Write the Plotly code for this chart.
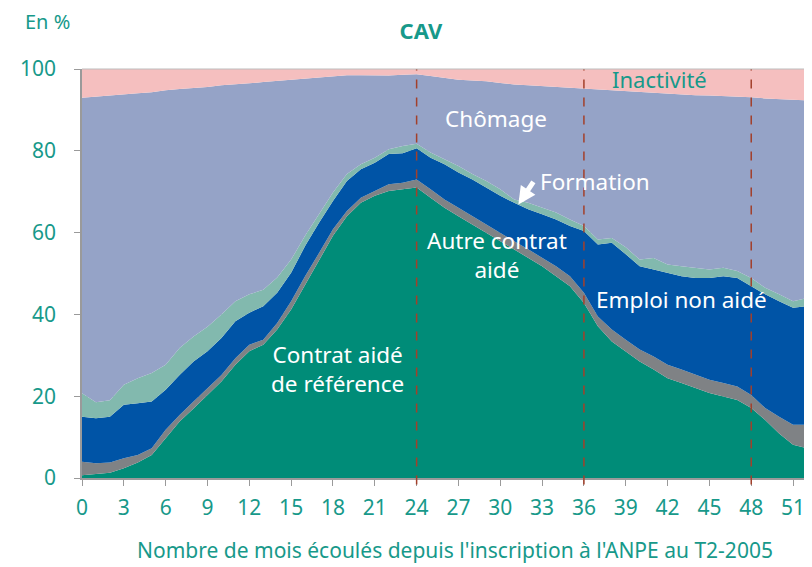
import plotly.graph_objects as go

months = list(range(0, 53))

# cumulative upper boundaries of each stacked layer (%)
top_contrat_ref = [0.7, 1.0, 1.3, 2.4, 3.8, 5.6, 9.7, 13.8, 17.0, 20.3, 23.6, 27.7, 31.0, 32.6, 36.3,
                   41.2, 47.3, 53.4, 59.2, 64.0, 67.3, 69.0, 70.2, 70.6, 71.0, 68.5, 66.1, 64.0, 62.0,
                   60.0, 57.9, 55.9, 53.8, 51.8, 49.3, 46.9, 42.8, 37.1, 33.4, 31.0, 28.5, 26.5, 24.4,
                   23.2, 22.0, 20.8, 19.9, 19.1, 17.1, 14.2, 10.9, 8.1, 7.3]
top_autre_contrat = [4.0, 3.6, 3.8, 4.8, 5.6, 7.3, 11.8, 15.4, 18.7, 22.0, 25.2, 29.3, 32.6, 33.8, 37.9,
                     43.2, 49.3, 55.0, 60.8, 65.3, 68.5, 70.2, 71.8, 72.2, 73.0, 70.6, 68.1, 66.1, 64.0,
                     62.0, 60.0, 57.9, 55.9, 53.8, 51.8, 49.3, 45.3, 39.5, 36.3, 33.8, 31.4, 29.7, 27.7,
                     26.5, 25.2, 24.0, 23.2, 22.4, 20.3, 17.1, 15.0, 13.0, 13.0]
top_emploi_non_aide = [15.0, 14.6, 15.0, 17.9, 18.3, 18.7, 21.6, 25.2, 28.5, 31.0, 34.2, 38.3, 40.4, 42.0,
                       45.3, 50.2, 56.7, 62.4, 67.7, 72.6, 75.5, 77.1, 79.2, 79.4, 80.6, 78.3, 76.7, 74.7,
                       73.0, 71.0, 69.0, 67.3, 65.7, 64.5, 63.2, 61.6, 60.4, 57.1, 57.5, 54.7, 51.8, 51.0,
                       50.2, 49.3, 48.9, 48.9, 49.3, 48.9, 46.9, 44.9, 43.2, 41.6, 42.0]
top_formation = [20.7, 18.5, 19.0, 22.8, 24.4, 25.7, 27.7, 31.8, 34.6, 37.0, 40.0, 43.2, 44.9, 46.0, 49.0,
                 53.4, 59.2, 64.5, 69.8, 74.3, 76.7, 78.3, 80.4, 81.2, 81.7, 79.6, 77.9, 76.3, 74.3, 72.6,
                 70.6, 68.1, 67.3, 66.1, 64.9, 63.2, 61.6, 58.3, 58.7, 56.4, 53.4, 53.8, 52.2, 51.8, 51.4,
                 51.0, 51.4, 50.6, 48.9, 46.5, 44.9, 43.2, 44.0]
top_chomage = [93.0, 93.3, 93.6, 93.9, 94.1, 94.3, 94.8, 95.1, 95.3, 95.6, 96.0, 96.2, 96.5, 96.8, 97.1,
               97.3, 97.6, 97.9, 98.3, 98.5, 98.5, 98.4, 98.4, 98.6, 98.7, 98.3, 97.8, 97.4, 97.2, 97.0,
               96.6, 96.2, 96.0, 95.8, 95.6, 95.4, 95.1, 94.9, 94.8, 94.6, 94.3, 94.1, 93.9, 93.8, 93.6,
               93.5, 93.4, 93.3, 93.1, 92.8, 92.6, 92.4, 92.3]
top_inactivite = [100.0] * 53

layers = [
    ("Contrat aidé de référence", top_contrat_ref, "#008C78"),
    ("Autre contrat aidé", top_autre_contrat, "#7F8285"),
    ("Emploi non aidé", top_emploi_non_aide, "#0054A6"),
    ("Formation", top_formation, "#82B9AE"),
    ("Chômage", top_chomage, "#95A3C7"),
    ("Inactivité", top_inactivite, "#F5BFBF"),
]

xticks = list(range(0, 52, 3))
yticks = [0, 20, 40, 60, 80, 100]
period_marks = [24, 36, 48]

TEAL = "#17998A"
FONT = "Noto Sans"

# the page body adds an 8px offset, so the figure is sized 8px smaller
W, H = 804, 559

fig = go.Figure()
fig.add_trace(go.Scatter(x=months, y=[0] * 53, mode="lines", line=dict(width=0),
                         showlegend=False, hoverinfo="skip"))
for name, top, color in layers:
    fig.add_trace(go.Scatter(x=months, y=top, mode="lines", name=name,
                             line=dict(width=0, color=color), fill="tonexty",
                             fillcolor=color, showlegend=False))

for m in period_marks:
    fig.add_shape(type="line", x0=m, x1=m, y0=-0.016, y1=1, xref="x", yref="paper",
                  line=dict(color="#A3402B", width=1.5, dash="dash"))
# light frame on top and right
fig.add_shape(type="line", x0=0, x1=1, y0=1, y1=1, xref="paper", yref="paper",
              line=dict(color="#BDBDBD", width=1))
fig.add_shape(type="line", x0=1, x1=1, y0=0, y1=1, xref="paper", yref="paper",
              line=dict(color="#CFCFCF", width=1))

white = dict(family=FONT, size=22.5, color="white")
fig.add_annotation(x=29.7, y=88.0, text="Chômage", showarrow=False, font=white)
fig.add_annotation(x=32.7, y=72.4, text="Formation", showarrow=False, font=white, xanchor="left")
fig.add_annotation(x=31.3, y=66.9, text="", showarrow=True, arrowhead=2, arrowsize=0.7,
                   arrowwidth=5, arrowcolor="white", ax=16, ay=-24)
fig.add_annotation(x=29.8, y=54.6, text="Autre contrat<br>aidé", showarrow=False, font=white,
                   align="center")
fig.add_annotation(x=43.0, y=43.6, text="Emploi non aidé", showarrow=False, font=white)
fig.add_annotation(x=18.3, y=26.7, text="Contrat aidé<br>de référence", showarrow=False,
                   font=white, align="center")
fig.add_annotation(x=41.4, y=97.6, text="Inactivité", showarrow=False,
                   font=dict(family=FONT, size=22, color=TEAL))

fig.add_annotation(x=-0.0814, y=1.117, xref="paper", yref="paper", text="En %", showarrow=False,
                   font=dict(family=FONT, size=20, color=TEAL), xanchor="left", yanchor="middle")
fig.add_annotation(x=0.514, y=-0.176, xref="paper", yref="paper",
                   text="Nombre de mois écoulés depuis l'inscription à l'ANPE au T2-2005",
                   showarrow=False, font=dict(family=FONT, size=21, color=TEAL),
                   xanchor="center", yanchor="middle")

fig.update_layout(
    width=W, height=H,
    margin=dict(l=74, r=5, t=61, b=89),
    paper_bgcolor="white", plot_bgcolor="white",
    title=dict(text="<b>CAV</b>", x=(421 - 8) / W, xanchor="center", y=1 - (31 - 8) / H,
               yanchor="middle", font=dict(family=FONT, size=22, color=TEAL)),
    font=dict(family=FONT, color=TEAL),
    xaxis=dict(range=[0, 52], tickvals=xticks + [51], ticks="outside", ticklen=6,
               tickcolor="#9A9A9A", showgrid=False, showline=True, linecolor="#9A9A9A",
               linewidth=1.5, zeroline=False, automargin=False, ticklabelstandoff=4,
               tickfont=dict(family=FONT, size=21, color=TEAL)),
    yaxis=dict(range=[0, 100], tickvals=yticks, ticks="outside", ticklen=6,
               tickcolor="#9A9A9A", showgrid=True, gridcolor="#A6D8CC", gridwidth=1,
               showline=True, linecolor="#9A9A9A", linewidth=1.5, zeroline=False,
               layer="above traces", automargin=False, ticklabelstandoff=14,
               tickfont=dict(family=FONT, size=21, color=TEAL)),
)

fig.write_html("out.html")
